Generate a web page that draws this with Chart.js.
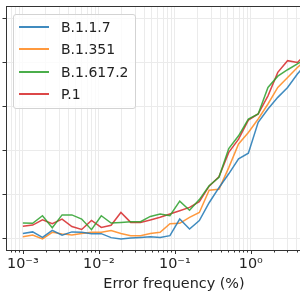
<!DOCTYPE html>
<html>
<head>
<meta charset="utf-8">
<script src="https://cdn.jsdelivr.net/npm/chart.js@4"></script>
<style>
  html, body { margin: 0; padding: 0; background: #fff; overflow: hidden; }
  #quadro { position: relative; width: 300px; height: 300px; overflow: hidden; }
  #grafico { position: absolute; left: 0; top: 0; }
  .legenda {
    position: absolute; left: 13px; top: 14px; width: 121px; height: 92px;
    padding-top: 0.5px; border: 1px solid #d3d3d3; border-radius: 3px;
    background: rgba(255,255,255,0.8);
    font-family: 'DejaVu Sans'; font-size: 14px; color: #222;
  }
  .legenda .item { display: flex; align-items: center; height: 22.5px; }
  .legenda .amostra { width: 30px; height: 2px; margin-left: 4.5px; margin-right: 12.5px; }
</style>
</head>
<body>
<div id="quadro">
  <canvas id="grafico" width="360" height="300"></canvas>
  <div class="legenda" id="legenda"></div>
</div>
<script>
// VARIANTES E CORES
const variantes = ['B.1.1.7', 'B.1.351', 'B.1.617.2', 'P.1'];
const cores = ['rgba(31,119,180,0.85)', 'rgba(255,127,14,0.8)', 'rgba(44,160,44,0.85)', 'rgba(214,39,40,0.85)'];

// frequência de erro (%) de cada ponto
const frequencias = [0.001, 0.001346, 0.001812, 0.002438, 0.003282, 0.004417, 0.005946, 0.008003,
  0.01077, 0.0145, 0.01951, 0.02627, 0.03535, 0.04758, 0.06405, 0.0862, 0.116, 0.1562,
  0.2102, 0.2829, 0.3808, 0.5126, 0.6899, 0.9286, 1.25, 1.682, 2.264, 3.048, 4.102, 5.522];

// valores
const valoresB117 = [0.025, 0.032, 0.007, 0.039, 0.017, 0.032, 0.030, 0.024, 0.024, 0.006,
  0.000, 0.004, 0.007, 0.010, 0.007, 0.015, 0.090, 0.045, 0.083, 0.164,
  0.232, 0.295, 0.363, 0.388, 0.528, 0.588, 0.641, 0.686, 0.747, 0.798];
const valoresB1351 = [0.010, 0.018, 0.000, 0.030, 0.023, 0.018, 0.025, 0.030, 0.030, 0.038,
  0.025, 0.015, 0.015, 0.025, 0.030, 0.069, 0.071, 0.098, 0.120, 0.221,
  0.225, 0.323, 0.430, 0.482, 0.543, 0.611, 0.686, 0.731, 0.776, 0.816];
const valoresB16172 = [0.072, 0.071, 0.105, 0.051, 0.109, 0.109, 0.090, 0.042, 0.105, 0.072,
  0.075, 0.078, 0.078, 0.102, 0.113, 0.105, 0.171, 0.130, 0.178, 0.241,
  0.279, 0.409, 0.467, 0.543, 0.566, 0.686, 0.737, 0.766, 0.793, 0.820];
const valoresP1 = [0.058, 0.063, 0.087, 0.069, 0.090, 0.056, 0.043, 0.084, 0.052, 0.062,
  0.120, 0.075, 0.075, 0.086, 0.098, 0.113, 0.128, 0.143, 0.169, 0.239,
  0.281, 0.392, 0.452, 0.538, 0.566, 0.648, 0.754, 0.807, 0.799, 0.843];
const series = [valoresB117, valoresB1351, valoresB16172, valoresP1];

// EIXOS
const xMin = 0.000631;
const xMax = 15.85;
const xMaiores = [0.001, 0.01, 0.1, 1, 10];
const xRotulos = ['10⁻³', '10⁻²', '10⁻¹', '10⁰', '10¹'];
const yMin = -0.05;
const yMax = 1.05;
const yMarcas = [0, 0.2, 0.4, 0.6, 0.8, 1.0];

Chart.defaults.font.family = 'DejaVu Sans';
Chart.defaults.color = '#222';

// monta a legenda
const legenda = document.getElementById('legenda');
variantes.forEach((nome, i) => {
  const item = document.createElement('div');
  item.className = 'item';
  item.innerHTML = '<span class="amostra" style="background:' + cores[i] + '"></span><span>' + nome + '</span>';
  legenda.appendChild(item);
});

function ehMaior (v) {
  return Math.abs(Math.log10(v) - Math.round(Math.log10(v))) < 1e-6;
}

// moldura e tracinhos do eixo x (maiores e menores)
const moldura = {
  id: 'moldura',
  afterDatasetsDraw (chart) {
    const {ctx, chartArea: a} = chart;
    const esq = Math.round(a.left) + 0.5;
    const topo = Math.round(a.top) - 0.5;
    const base = Math.round(a.bottom) + 0.5;
    const dir = Math.round(a.right) + 0.5;
    ctx.save();
    ctx.strokeStyle = '#333';
    ctx.lineWidth = 1;
    ctx.strokeRect(esq, topo, dir - esq, base - topo);
    const eixo = chart.scales.x;
    ctx.beginPath();
    eixo.ticks.forEach(t => {
      const px = Math.round(eixo.getPixelForValue(t.value)) + 0.5;
      const tam = ehMaior(t.value) ? 3.5 : 2;
      ctx.moveTo(px, base);
      ctx.lineTo(px, base + tam);
    });
    ctx.stroke();
    ctx.restore();
  }
};

const conjuntos = variantes.map((nome, i) => ({
  label: nome,
  data: frequencias.map((f, j) => ({x: f, y: series[i][j]})),
  borderColor: cores[i],
  borderWidth: 1.5,
  pointRadius: 0,
  tension: 0,
  fill: false
}));

new Chart(document.getElementById('grafico'), {
  type: 'line',
  data: {datasets: conjuntos},
  options: {
    responsive: false,
    animation: false,
    devicePixelRatio: 1,
    layout: {padding: {left: 0, top: 7, right: 18, bottom: 0}},
    plugins: {legend: {display: false}, tooltip: {enabled: false}},
    scales: {
      x: {
        type: 'logarithmic',
        min: xMin,
        max: xMax,
        afterFit: eixo => { eixo.height = 50; },
        afterBuildTicks: eixo => {
          const marcas = [];
          for (let n = -4; n <= 1; n++) {
            for (let k = 1; k <= 9; k++) {
              const v = k * Math.pow(10, n);
              if (v >= xMin && v <= xMax) marcas.push({value: v});
            }
          }
          eixo.ticks = marcas;
        },
        border: {display: false},
        grid: {color: '#ebebeb', lineWidth: 1, drawTicks: false},
        ticks: {
          autoSkip: false,
          maxRotation: 0,
          padding: 6,
          font: {size: 14.4},
          callback: (v) => {
            const i = xMaiores.findIndex(m => Math.abs(Math.log10(m) - Math.log10(v)) < 1e-6);
            return i >= 0 ? xRotulos[i] : '';
          }
        },
        title: {
          display: true,
          text: 'Error frequency (%)',
          font: {size: 14.4},
          padding: {top: 0, bottom: 7.5}
        }
      },
      y: {
        type: 'linear',
        min: yMin,
        max: yMax,
        afterFit: eixo => { eixo.width = 6; },
        afterBuildTicks: eixo => { eixo.ticks = yMarcas.map(v => ({value: v})); },
        border: {display: false},
        grid: {color: '#ebebeb', lineWidth: 1, tickLength: 3.5, tickColor: '#333'},
        ticks: {display: false}
      }
    }
  },
  plugins: [moldura]
});
</script>
</body>
</html>
